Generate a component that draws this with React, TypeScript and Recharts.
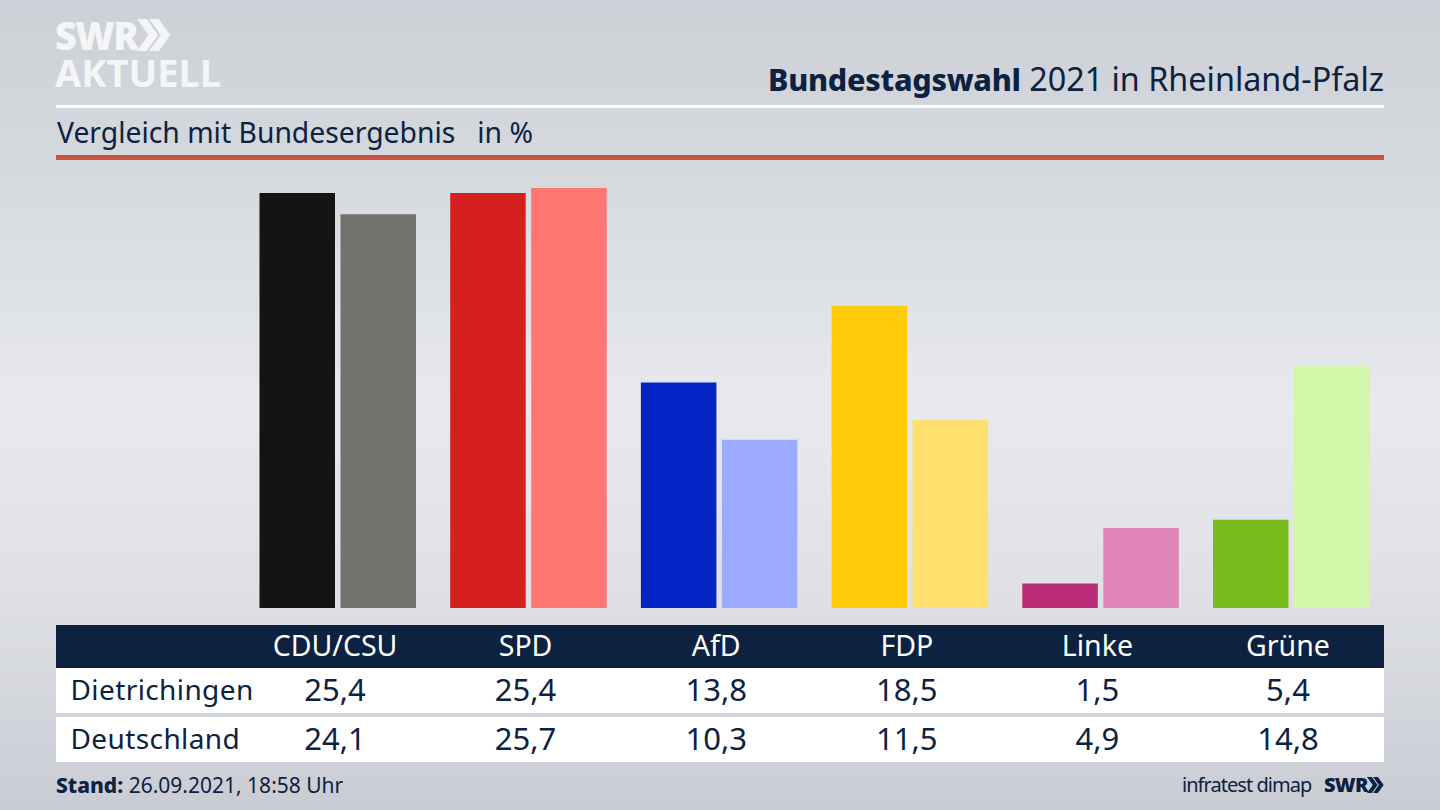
import React from "react";
import { BarChart, Bar, Cell, XAxis, YAxis } from "recharts";

const parties = ["CDU/CSU", "SPD", "AfD", "FDP", "Linke", "Grüne"];
const localName = "Dietrichingen";
const nationalName = "Deutschland";
const localValues = [25.4, 25.4, 13.8, 18.5, 1.5, 5.4];
const nationalValues = [24.1, 25.7, 10.3, 11.5, 4.9, 14.8];
const localColors = ["#141414", "#d61f1f", "#0324c4", "#ffcb0a", "#bb2d78", "#78bd1e"];
const nationalColors = ["#72716e", "#ff7570", "#9dabff", "#ffe06e", "#e086b8", "#d2f7a8"];

const chartData = parties.map((party, i) => ({
  party,
  local: localValues[i],
  national: nationalValues[i],
}));

const NAVY = "#0c2240";
const FONT = '"Noto Sans", sans-serif';
const fmt = (v: number) => v.toFixed(1).replace(".", ",");
const colCenter = (i: number) => 335 + 190.6 * i;

const abs = (style: React.CSSProperties): React.CSSProperties => ({
  position: "absolute",
  whiteSpace: "nowrap",
  ...style,
});

function Row({ y, h, bg, label, cells, color, size }: any) {
  return (
    <div style={abs({ left: 56, top: y, width: 1328, height: h, background: bg })}>
      {label && (
        <div style={abs({ left: 14.5, top: 0, lineHeight: `${h - 2}px`, fontSize: 28, color, letterSpacing: 0.4 })}>
          {label}
        </div>
      )}
      {cells.map((c: string, i: number) => (
        <div
          key={i}
          style={abs({
            left: colCenter(i) - 56 - 90,
            width: 180,
            top: 0,
            textAlign: "center",
            lineHeight: `${h - 2}px`,
            fontSize: size,
            color,
          })}
        >
          {c}
        </div>
      ))}
    </div>
  );
}

function Chevrons({ x, y, s, color }: any) {
  const w = 0.36 * s;
  const d = (ox: number) =>
    `M${ox} 0 L${ox + 0.3 * s} 0 L${ox + 0.3 * s + w} ${0.5 * s} L${ox + 0.3 * s} ${s} L${ox} ${s} L${ox + w} ${0.5 * s} Z`;
  return (
    <svg style={abs({ left: x, top: y })} width={s * 1.05} height={s}>
      <path d={d(0)} fill={color} />
      <path d={d(0.38 * s)} fill={color} />
    </svg>
  );
}

export default function App() {
  return (
    <div
      style={abs({
        left: 0,
        top: 0,
        width: 1440,
        height: 810,
        overflow: "hidden",
        fontFamily: FONT,
        background:
          "linear-gradient(180deg, #cdd0d6 0%, #d5d8dd 20%, #e7e9ee 50%, #dfe1e6 72%, #c9ccd3 100%)",
      })}
    >
      <div style={abs({ left: 55, top: 17, fontSize: 38, lineHeight: "36px", fontWeight: 900, color: "#f4f5f6", letterSpacing: -1.6 })}>
        SWR
      </div>
      <Chevrons x={137} y={19} s={32} color="#f4f5f6" />
      <div style={abs({ left: 55, top: 54, fontSize: 38, lineHeight: "36px", fontWeight: 700, color: "#f4f5f6", letterSpacing: 0 })}>
        AKTUELL
      </div>

      <div style={abs({ right: 56, top: 56, fontSize: 32.35, lineHeight: "44px", color: NAVY })}>
        <span style={{ fontWeight: 800, fontSize: 30.5, letterSpacing: -0.25 }}>Bundestagswahl</span> 2021 in Rheinland-Pfalz
      </div>
      <div style={abs({ left: 56, top: 105, width: 1328, height: 3, background: "#ffffff" })} />
      <div style={abs({ left: 57, top: 112, fontSize: 28.3, lineHeight: "40px", color: NAVY, whiteSpace: "pre" })}>
        {"Vergleich mit Bundesergebnis   in %"}
      </div>
      <div style={abs({ left: 56, top: 155, width: 1328, height: 5, background: "#c9533e" })} />

      <div style={abs({ left: 0, top: 0 })}>
        <BarChart
          width={1440}
          height={810}
          data={chartData}
          barSize={75.5}
          barGap={5.5}
          barCategoryGap={0}
          margin={{ top: 183.16, right: 53.3, bottom: 202, left: 242.5 }}
        >
          <XAxis dataKey="party" hide />
          <YAxis hide domain={[0, 26]} />
          <Bar dataKey="local" isAnimationActive={false}>
            {localColors.map((c, i) => (
              <Cell key={i} fill={c} />
            ))}
          </Bar>
          <Bar dataKey="national" isAnimationActive={false}>
            {nationalColors.map((c, i) => (
              <Cell key={i} fill={c} />
            ))}
          </Bar>
        </BarChart>
      </div>

      <Row y={625} h={43} bg={NAVY} cells={parties} color="#ffffff" size={28.5} />
      <Row y={668} h={45} bg="#ffffff" label={localName} cells={localValues.map(fmt)} color={NAVY} size={31} />
      <Row y={717} h={45} bg="#ffffff" label={nationalName} cells={nationalValues.map(fmt)} color={NAVY} size={31} />

      <div style={abs({ left: 56, top: 770, fontSize: 21, lineHeight: "30px", color: NAVY })}>
        <span style={{ fontWeight: 800 }}>Stand:</span> 26.09.2021, 18:58 Uhr
      </div>
      <div style={abs({ left: 1182, top: 770, fontSize: 20, lineHeight: "30px", color: NAVY, letterSpacing: -0.95 })}>
        infratest dimap
      </div>
      <div style={abs({ left: 1324, top: 771, fontSize: 20, lineHeight: "28px", fontWeight: 900, color: NAVY, letterSpacing: -0.7 })}>
        SWR
      </div>
      <Chevrons x={1367} y={777} s={16} color={NAVY} />
    </div>
  );
}
